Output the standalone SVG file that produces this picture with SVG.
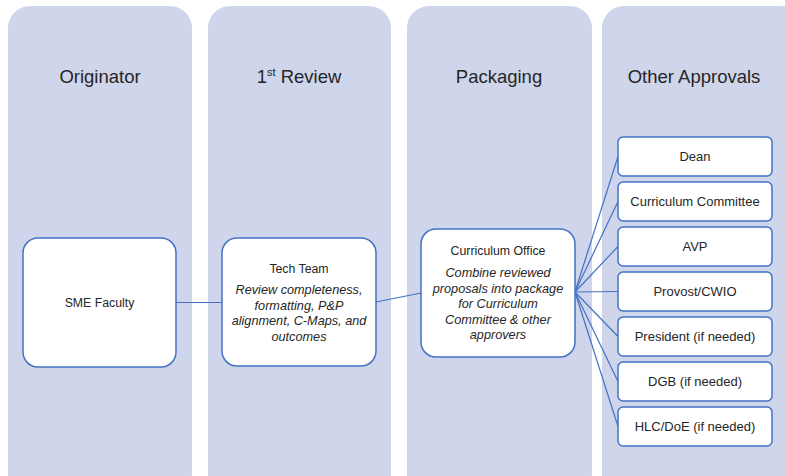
<svg xmlns="http://www.w3.org/2000/svg" width="785" height="476" viewBox="0 0 785 476">
<style>
.lane{fill:#cfd5ea;}
.hdr{font-family:"Liberation Sans",Arial,sans-serif;font-size:18.5px;fill:#262626;text-anchor:middle;}
.box{fill:#fff;stroke:#4472c4;stroke-width:1.5;}
.t{font-family:"Liberation Sans",Arial,sans-serif;font-size:12.3px;fill:#262626;text-anchor:middle;}
.r{font-size:13px;}
.i{font-style:italic;font-size:12.7px;}
.conn{stroke:#4472c4;stroke-width:1.2;fill:none;}
</style>
<rect width="785" height="476" fill="#fff"/>
<g id="lanes">
<rect class="lane" x="8" y="6" width="184" height="490" rx="22"/>
<rect class="lane" x="208" y="6" width="183" height="490" rx="22"/>
<rect class="lane" x="407" y="6" width="185" height="490" rx="22"/>
<rect class="lane" x="602" y="6" width="200" height="490" rx="22"/>
<text class="hdr" x="100" y="83">Originator</text>
<text class="hdr" x="299" y="83">1<tspan font-size="11" dy="-7">st</tspan><tspan dy="7"> Review</tspan></text>
<text class="hdr" x="499" y="83">Packaging</text>
<text class="hdr" x="694" y="83">Other Approvals</text>
</g>
<g id="connectors">
<line class="conn" x1="176" y1="302.5" x2="222" y2="302.5"/>
<line class="conn" x1="376" y1="302" x2="421" y2="293"/>
<line class="conn" x1="575" y1="292" x2="618" y2="156.5"/>
<line class="conn" x1="575" y1="292" x2="618" y2="201.5"/>
<line class="conn" x1="575" y1="292" x2="618" y2="246.5"/>
<line class="conn" x1="575" y1="292" x2="618" y2="291.5"/>
<line class="conn" x1="575" y1="292" x2="618" y2="336.5"/>
<line class="conn" x1="575" y1="292" x2="618" y2="381.5"/>
<line class="conn" x1="575" y1="292" x2="618" y2="426.5"/>
</g>
<g id="sme">
<rect class="box" x="23" y="238" width="153" height="129" rx="15"/>
<text class="t" x="99.5" y="307">SME Faculty</text>
</g>
<g id="tech">
<rect class="box" x="222" y="238" width="154" height="128" rx="15"/>
<text class="t" x="299" y="273">Tech Team</text>
<text class="t i" x="299" y="294">Review completeness,</text>
<text class="t i" x="299" y="309.5">formatting, P&amp;P</text>
<text class="t i" x="299" y="325">alignment, C-Maps, and</text>
<text class="t i" x="299" y="340.5">outcomes</text>
</g>
<g id="office">
<rect class="box" x="421" y="229" width="154" height="128" rx="15"/>
<text class="t" x="498" y="255">Curriculum Office</text>
<text class="t i" x="498" y="277">Combine reviewed</text>
<text class="t i" x="498" y="292.5">proposals into package</text>
<text class="t i" x="498" y="308">for Curriculum</text>
<text class="t i" x="498" y="323.5">Committee &amp; other</text>
<text class="t i" x="498" y="339">approvers</text>
</g>
<g id="dean"><rect class="box" x="618" y="137" width="154" height="39" rx="5"/><text class="t r" x="695" y="161">Dean</text></g>
<g id="cc"><rect class="box" x="618" y="182" width="154" height="39" rx="5"/><text class="t r" x="695" y="206">Curriculum Committee</text></g>
<g id="avp"><rect class="box" x="618" y="227" width="154" height="39" rx="5"/><text class="t r" x="695" y="251">AVP</text></g>
<g id="provost"><rect class="box" x="618" y="272" width="154" height="39" rx="5"/><text class="t r" x="695" y="296">Provost/CWIO</text></g>
<g id="president"><rect class="box" x="618" y="317" width="154" height="39" rx="5"/><text class="t r" x="695" y="341">President (if needed)</text></g>
<g id="dgb"><rect class="box" x="618" y="362" width="154" height="39" rx="5"/><text class="t r" x="695" y="386">DGB (if needed)</text></g>
<g id="hlc"><rect class="box" x="618" y="407" width="154" height="39" rx="5"/><text class="t r" x="695" y="431">HLC/DoE (if needed)</text></g>
</svg>
